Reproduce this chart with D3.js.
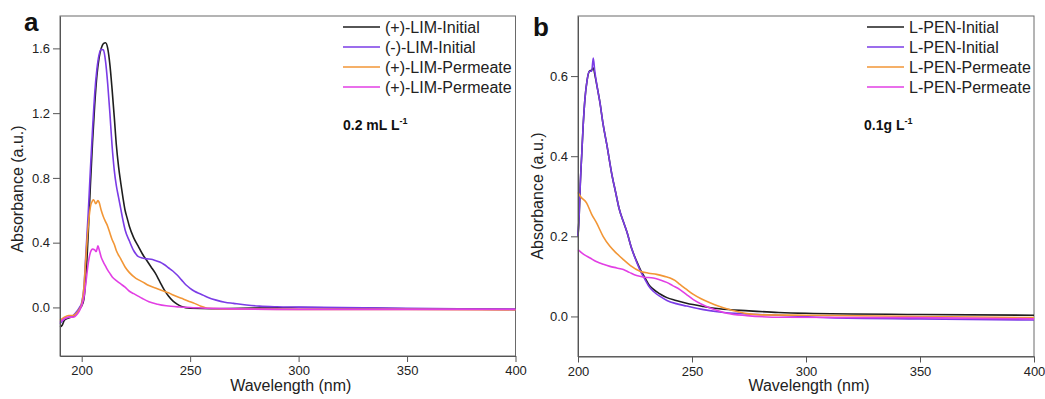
<!DOCTYPE html>
<html>
<head>
<meta charset="utf-8">
<script src="https://cdn.jsdelivr.net/npm/d3@7"></script>
<style>
  html, body { margin: 0; padding: 0; background: #fff; }
  svg { display: block; font-family: 'Liberation Sans', Arial, sans-serif; }
</style>
</head>
<body>
<svg id="chart" width="1045" height="399"></svg>
<script>
// panel a: limonene, [wavelength nm, absorbance]
const limPlusInitial = [[190,-0.12],[191,-0.11],[192,-0.08],[193,-0.07],[194,-0.065],[195,-0.06],[196,-0.055],[197,-0.045],[198,-0.03],[199,-0.01],[200,0.01],[201,0.05],[202,0.2],[203,0.45],[204,0.75],[205,1.02],[206,1.25],[207,1.43],[208,1.54],[209,1.6],[210,1.63],[211,1.635],[212,1.6],[213,1.5],[214,1.35],[215,1.18],[216,1.0],[217,0.87],[218,0.77],[219,0.68],[220,0.6],[221,0.55],[222,0.5],[224,0.43],[226,0.38],[228,0.33],[230,0.29],[232,0.25],[234,0.21],[236,0.16],[238,0.11],[240,0.07],[242,0.04],[244,0.02],[246,0.005],[250,-0.005],[260,-0.008],[300,0.0],[350,-0.008],[400,-0.012]];
const limMinusInitial = [[190,-0.1],[192,-0.07],[194,-0.06],[196,-0.05],[198,-0.02],[199,0.0],[200,0.03],[201,0.12],[202,0.35],[203,0.58],[204,0.85],[205,1.1],[206,1.32],[207,1.47],[208,1.56],[209,1.595],[210,1.59],[211,1.52],[212,1.38],[213,1.2],[214,1.0],[215,0.85],[216,0.75],[217,0.68],[218,0.61],[219,0.54],[220,0.48],[222,0.41],[224,0.35],[225,0.33],[226,0.315],[228,0.305],[230,0.3],[232,0.298],[234,0.29],[236,0.28],[238,0.265],[240,0.245],[242,0.225],[244,0.2],[246,0.17],[248,0.14],[250,0.118],[252,0.1],[255,0.082],[258,0.063],[262,0.045],[266,0.032],[270,0.025],[276,0.015],[282,0.008],[290,0.004],[300,0.002],[350,-0.006],[400,-0.012]];
const limPlusPermeateA = [[190,-0.08],[192,-0.06],[194,-0.05],[196,-0.05],[198,-0.03],[199,-0.01],[200,0.02],[201,0.12],[202,0.32],[203,0.5],[204,0.62],[205,0.66],[205.5,0.665],[206.5,0.64],[207.5,0.66],[208,0.65],[209,0.6],[210,0.56],[211,0.53],[212,0.5],[213,0.46],[214,0.42],[215,0.39],[216,0.35],[218,0.3],[220,0.25],[222,0.215],[225,0.18],[228,0.158],[231,0.135],[234,0.12],[237,0.105],[240,0.09],[243,0.072],[246,0.056],[249,0.04],[252,0.025],[255,0.008],[258,-0.005],[270,-0.01],[300,-0.012],[350,-0.012],[400,-0.015]];
const limPlusPermeateB = [[190,-0.09],[192,-0.07],[194,-0.06],[196,-0.06],[198,-0.04],[199,-0.02],[200,0.01],[201,0.06],[202,0.16],[203,0.27],[204,0.34],[205,0.36],[206,0.355],[206.7,0.345],[207.5,0.38],[208,0.36],[209,0.31],[210,0.28],[211,0.255],[212,0.23],[213,0.21],[214,0.19],[216,0.165],[218,0.145],[220,0.125],[222,0.1],[224,0.085],[226,0.07],[228,0.055],[231,0.035],[235,0.02],[239,0.01],[245,0.003],[250,0.0],[260,-0.006],[300,-0.012],[350,-0.012],[400,-0.012]];

// panel b: L-PEN
const penInitialA = [[200,0.2],[200.5,0.25],[201,0.33],[201.6,0.4],[202.3,0.48],[203,0.54],[204,0.59],[205,0.612],[206,0.615],[206.7,0.62],[207.5,0.6],[208.5,0.57],[209.6,0.535],[211,0.48],[212.6,0.43],[215,0.35],[216.5,0.31],[218,0.27],[220,0.235],[221.5,0.21],[223.5,0.17],[225.7,0.138],[227.5,0.115],[229.4,0.096],[231,0.08],[233,0.068],[236,0.056],[239,0.047],[243,0.04],[247.6,0.033],[255,0.025],[262,0.019],[275,0.014],[288,0.01],[300,0.008],[350,0.005],[400,0.003]];
const penInitialB = [[200,0.2],[200.5,0.25],[201,0.33],[201.6,0.4],[202.3,0.48],[203,0.54],[204,0.59],[205,0.612],[206,0.612],[206.7,0.645],[207.3,0.615],[208.5,0.57],[209.6,0.535],[211,0.48],[212.6,0.43],[215,0.35],[216.5,0.31],[218,0.27],[220,0.235],[221.5,0.21],[223.5,0.17],[225.7,0.136],[227.5,0.112],[229.4,0.092],[231,0.076],[233,0.063],[236,0.05],[239,0.04],[243,0.032],[247.6,0.026],[255,0.017],[262,0.011],[275,0.006],[288,0.003],[310,-0.003],[350,-0.006],[400,-0.009]];
const penPermeateA = [[200,0.31],[201,0.3],[203.8,0.283],[206,0.255],[208.2,0.233],[211,0.2],[214,0.175],[217,0.157],[219.9,0.142],[223,0.127],[227.2,0.113],[231,0.108],[234.5,0.105],[238,0.1],[240.4,0.096],[242.5,0.09],[244.7,0.08],[247.5,0.068],[250.6,0.055],[254,0.044],[257.9,0.034],[261.5,0.026],[265.2,0.019],[270,0.012],[274,0.007],[280,0.004],[300,0.003],[350,0.0],[400,-0.003]];
const penPermeateB = [[200,0.167],[202.5,0.155],[205.3,0.146],[208,0.137],[211.1,0.13],[214,0.125],[217,0.121],[219.9,0.117],[222.5,0.11],[225.7,0.102],[229,0.098],[233,0.096],[236,0.091],[238.9,0.085],[241.5,0.077],[244.7,0.067],[247.5,0.055],[250.6,0.042],[254,0.031],[257.9,0.021],[261.5,0.014],[265.2,0.008],[274,0.002],[290,-0.002],[350,-0.003],[400,-0.006]];

const labelsA = ['(+)-LIM-Initial', '(-)-LIM-Initial', '(+)-LIM-Permeate', '(+)-LIM-Permeate'];
const labelsB = ['L-PEN-Initial', 'L-PEN-Initial', 'L-PEN-Permeate', 'L-PEN-Permeate'];
const colors = ['#1e1e1e', '#7b3ce6', '#f29636', '#e23fe4'];

const xTicksA = [200, 250, 300, 350, 400];
const yTicksA = [0, 0.4, 0.8, 1.2, 1.6];
const xTicksB = [200, 250, 300, 350, 400];
const yTicksB = [0, 0.2, 0.4, 0.6];

const svg = d3.select('#chart');
svg.append('rect').attr('width', 1045).attr('height', 399).attr('fill', '#fff');

function panel(opt) {
  const x = d3.scaleLinear().domain(opt.xDomain).range([opt.left, opt.right]);
  const y = d3.scaleLinear().domain(opt.yDomain).range([opt.bottom, opt.top]);
  const g = svg.append('g');

  // frame
  g.append('rect')
    .attr('x', opt.left).attr('y', opt.top)
    .attr('width', opt.right - opt.left).attr('height', opt.bottom - opt.top)
    .attr('fill', 'none').attr('stroke', '#6a6a6a').attr('stroke-width', 1);

  const line = d3.line()
    .x(d => x(d[0]))
    .y(d => y(d[1]))
    .curve(d3.curveMonotoneX);

  // plotted in legend order, later series on top
  opt.series.forEach((s, i) => {
    g.append('path')
      .datum(s)
      .attr('fill', 'none')
      .attr('stroke', colors[i])
      .attr('stroke-width', 1.6)
      .attr('d', line);
  });

  const xAxis = d3.axisBottom(x).tickValues(opt.xTicks).tickSize(6).tickPadding(4).tickSizeOuter(0);
  const yAxis = d3.axisLeft(y).tickValues(opt.yTicks).tickFormat(d3.format('.1f')).tickSize(7).tickPadding(3).tickSizeOuter(0);

  const xg = g.append('g').attr('transform', 'translate(0,' + opt.bottom + ')').call(xAxis);
  const yg = g.append('g').attr('transform', 'translate(' + opt.left + ',0)').call(yAxis);
  [xg, yg].forEach(a => {
    a.select('.domain').attr('stroke', '#555');
    a.selectAll('.tick line').attr('stroke', '#555');
    a.selectAll('.tick text').attr('fill', '#222').style('font-size', '13px').style('font-family', "'Liberation Sans', Arial, sans-serif");
  });

  // axis titles
  g.append('text')
    .attr('x', (opt.left + opt.right) / 2 + 3).attr('y', 391)
    .attr('text-anchor', 'middle').attr('fill', '#222')
    .style('font-size', '16px')
    .text('Wavelength (nm)');
  g.append('text')
    .attr('transform', 'translate(' + opt.yTitleX + ',' + opt.yTitleY + ') rotate(-90)')
    .attr('text-anchor', 'middle').attr('fill', '#222')
    .style('font-size', '16px')
    .text('Absorbance (a.u.)');

  // panel letter
  g.append('text')
    .attr('x', opt.letterX).attr('y', opt.letterY)
    .attr('fill', '#111').style('font-size', '26px').style('font-weight', 'bold')
    .text(opt.letter);

  // legend
  opt.labels.forEach((lab, i) => {
    const ly = 27 + i * 20;
    g.append('line')
      .attr('x1', opt.legendX).attr('x2', opt.legendX + 37)
      .attr('y1', ly).attr('y2', ly)
      .attr('stroke', colors[i]).attr('stroke-width', 1.5);
    g.append('text')
      .attr('x', opt.legendX + 42).attr('y', ly + 5.5)
      .attr('fill', '#222').style('font-size', '16px')
      .text(lab);
  });

  // concentration note
  const note = g.append('text')
    .attr('x', opt.noteX).attr('y', 130)
    .attr('fill', '#111').style('font-size', '14px').style('font-weight', 'bold');
  note.append('tspan').text(opt.note);
  note.append('tspan').attr('dy', -6).style('font-size', '9px').text('-1');
}

panel({
  series: [limPlusInitial, limMinusInitial, limPlusPermeateA, limPlusPermeateB],
  labels: labelsA,
  xDomain: [190, 400], yDomain: [-0.3, 1.8],
  left: 60, right: 515.5, top: 16, bottom: 356,
  xTicks: xTicksA, yTicks: yTicksA,
  yTitleX: 23, yTitleY: 189,
  letter: 'a', letterX: 24, letterY: 31,
  legendX: 343, noteX: 343, note: '0.2 mL L'
});

panel({
  series: [penInitialA, penInitialB, penPermeateA, penPermeateB],
  labels: labelsB,
  xDomain: [200, 400], yDomain: [-0.1, 0.75],
  left: 578, right: 1034, top: 16, bottom: 356.5,
  xTicks: xTicksB, yTicks: yTicksB,
  yTitleX: 543, yTitleY: 196,
  letter: 'b', letterX: 533, letterY: 36,
  legendX: 867, noteX: 864, note: '0.1g L'
});
</script>
</body>
</html>
